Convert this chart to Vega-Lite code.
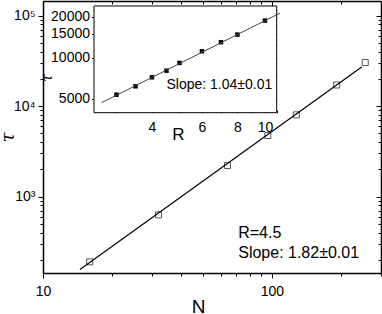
{
  "$schema": "https://vega.github.io/schema/vega-lite/v6.json",
  "width": 338,
  "height": 272,
  "autosize": {"type": "none"},
  "padding": {"left": 43, "top": 1, "right": 1, "bottom": 41},
  "background": "white",
  "config": {
    "view": {"stroke": null},
    "axis": {
      "grid": false,
      "labelFont": "Liberation Sans",
      "titleFont": "Liberation Sans",
      "labelColor": "black",
      "titleColor": "black",
      "domainColor": "black",
      "tickColor": "black",
      "labelFlush": false,
      "labelOverlap": false,
      "titleFontWeight": "normal",
      "zindex": 1
    },
    "text": {"font": "Liberation Sans", "color": "black"}
  },
  "datasets": {
    "mainData": [
      {"N": 16, "tau": 190},
      {"N": 32, "tau": 628},
      {"N": 64, "tau": 2200},
      {"N": 96, "tau": 4720},
      {"N": 128, "tau": 8000},
      {"N": 192, "tau": 17100},
      {"N": 256, "tau": 30300}
    ],
    "mainFit": [
      {"N": 14.5, "tau": 156},
      {"N": 247, "tau": 27000}
    ],
    "insetData": [
      {"R": 3, "tau": 5375},
      {"R": 3.5, "tau": 6190},
      {"R": 4, "tau": 7205},
      {"R": 4.5, "tau": 8050},
      {"R": 5, "tau": 9170},
      {"R": 6, "tau": 11160},
      {"R": 7, "tau": 13000},
      {"R": 8, "tau": 14770},
      {"R": 10, "tau": 18700}
    ],
    "insetFit": [
      {"R": 2.66, "tau": 4700},
      {"R": 11.3, "tau": 21200}
    ]
  },
  "layer": [
    {
      "layer": [
        {
          "data": {"name": "mainData"},
          "mark": {"type": "point", "shape": "square", "filled": false, "size": 36, "stroke": "#555", "strokeWidth": 1, "opacity": 1},
          "encoding": {
            "x": {
              "field": "N", "type": "quantitative",
              "scale": {"type": "log", "domain": [10, 300], "nice": false},
              "axis": {
                "orient": "bottom",
                "values": [10, 20, 30, 40, 50, 60, 70, 80, 90, 100, 200, 300],
                "labelExpr": "datum.value==10?'10':datum.value==100?'100':''",
                "tickSize": {"condition": {"test": "datum.value==10||datum.value==100", "value": 5}, "value": 3},
                "labelFontSize": 14,
                "labelPadding": 6,
                "domainWidth": 1.5,
                "title": "N",
                "titleFontSize": 19,
                "titleX": 155,
                "titleY": 33,
                "titleBaseline": "middle",
                "titleAlign": "center"
              }
            },
            "y": {
              "field": "tau", "type": "quantitative",
              "scale": {"type": "log", "domain": [143, 145000], "nice": false},
              "axis": {
                "orient": "left",
                "values": [200, 300, 400, 500, 600, 700, 800, 900, 1000, 2000, 3000, 4000, 5000, 6000, 7000, 8000, 9000, 10000, 20000, 30000, 40000, 50000, 60000, 70000, 80000, 90000, 100000],
                "labelExpr": "datum.value==1000?'10³':datum.value==10000?'10⁴':datum.value==100000?'10⁵':''",
                "tickSize": {"condition": {"test": "datum.value==1000||datum.value==10000||datum.value==100000", "value": 5}, "value": 3},
                "labelFontSize": 14,
                "labelPadding": 3,
                "domainWidth": 1.5,
                "title": "τ",
                "titleFont": "DejaVu Serif",
                "titleFontStyle": "italic",
                "titleFontSize": 18,
                "titleX": -35,
                "titleY": 136,
                "titleAngle": -90,
                "titleBaseline": "middle",
                "titleAlign": "center"
              }
            }
          }
        },
        {
          "data": {"name": "mainFit"},
          "mark": {"type": "line", "color": "black", "strokeWidth": 1.2},
          "encoding": {
            "x": {
              "field": "N", "type": "quantitative",
              "scale": {"type": "log", "domain": [10, 300], "nice": false},
              "axis": {
                "orient": "top",
                "values": [10, 20, 30, 40, 50, 60, 70, 80, 90, 100, 200, 300],
                "labels": false,
                "title": null,
                "tickSize": {"condition": {"test": "datum.value==10||datum.value==100", "value": -5}, "value": -3},
                "domainWidth": 1.5
              }
            },
            "y": {
              "field": "tau", "type": "quantitative",
              "scale": {"type": "log", "domain": [143, 145000], "nice": false},
              "axis": {
                "orient": "right",
                "values": [200, 300, 400, 500, 600, 700, 800, 900, 1000, 2000, 3000, 4000, 5000, 6000, 7000, 8000, 9000, 10000, 20000, 30000, 40000, 50000, 60000, 70000, 80000, 90000, 100000],
                "labels": false,
                "title": null,
                "tickSize": {"condition": {"test": "datum.value==1000||datum.value==10000||datum.value==100000", "value": -5}, "value": -3},
                "domainWidth": 1.5
              }
            }
          }
        },
        {
          "data": {"values": [{}]},
          "mark": {"type": "text", "align": "left", "baseline": "middle", "fontSize": 16},
          "encoding": {
            "x": {"datum": 71.3, "type": "quantitative", "scale": {"type": "log", "domain": [10, 300], "nice": false}, "axis": null},
            "y": {"datum": 400, "type": "quantitative", "scale": {"type": "log", "domain": [143, 145000], "nice": false}, "axis": null},
            "text": {"value": "R=4.5"}
          }
        },
        {
          "data": {"values": [{}]},
          "mark": {"type": "text", "align": "left", "baseline": "middle", "fontSize": 16},
          "encoding": {
            "x": {"datum": 71.3, "type": "quantitative", "scale": {"type": "log", "domain": [10, 300], "nice": false}, "axis": null},
            "y": {"datum": 239, "type": "quantitative", "scale": {"type": "log", "domain": [143, 145000], "nice": false}, "axis": null},
            "text": {"value": "Slope: 1.82±0.01"}
          }
        }
      ],
      "resolve": {"axis": {"x": "independent", "y": "independent"}}
    },
    {
      "layer": [
        {
          "data": {"values": [{}]},
          "mark": {"type": "rect", "fill": "white", "stroke": "black", "strokeWidth": 1},
          "encoding": {
            "x": {
              "datum": 2.5, "type": "quantitative",
              "scale": {"type": "log", "domain": [2.5, 11], "range": [51, 233.7], "nice": false},
              "axis": {
                "orient": "bottom",
                "offset": -160.3,
                "values": [3, 4, 5, 6, 7, 8, 9, 10, 11],
                "labelExpr": "datum.value==4?'4':datum.value==6?'6':datum.value==8?'8':datum.value==10?'10':''",
                "tickSize": {"condition": {"test": "datum.value==4||datum.value==6||datum.value==8||datum.value==10", "value": -4}, "value": -2.5},
                "labelFontSize": 14,
                "labelPadding": 12,
                "domain": false,
                "title": "R",
                "titleFontSize": 17,
                "titleX": 135,
                "titleY": 22,
                "titleBaseline": "middle",
                "titleAlign": "center"
              }
            },
            "x2": {"datum": 11},
            "y": {
              "datum": 3970, "type": "quantitative",
              "scale": {"type": "log", "domain": [3970, 23900], "range": [111.7, 5], "nice": false},
              "axis": {
                "orient": "left",
                "offset": -51,
                "values": [5000, 10000, 15000, 20000],
                "labelExpr": "datum.value + ''",
                "tickSize": 2.5,
                "labelFontSize": 14,
                "labelPadding": 2,
                "domain": false,
                "title": "τ",
                "titleFont": "DejaVu Serif",
                "titleFontStyle": "italic",
                "titleFontSize": 14,
                "titleX": -47,
                "titleY": 76.7,
                "titleAngle": -90,
                "titleBaseline": "middle",
                "titleAlign": "center"
              }
            },
            "y2": {"datum": 23900}
          }
        },
        {
          "data": {"name": "insetData"},
          "mark": {"type": "point", "shape": "square", "filled": true, "size": 20, "color": "black", "opacity": 1},
          "encoding": {
            "x": {"field": "R", "type": "quantitative", "scale": {"type": "log", "domain": [2.5, 11], "range": [51, 233.7], "nice": false}, "axis": null},
            "y": {
              "field": "tau", "type": "quantitative",
              "scale": {"type": "log", "domain": [3970, 23900], "range": [111.7, 5], "nice": false},
              "axis": {
                "orient": "right",
                "offset": -104.3,
                "values": [5000, 7500, 10000, 12500, 15000, 17500, 20000, 22500],
                "labels": false,
                "title": null,
                "tickSize": {"condition": {"test": "datum.value==5000||datum.value==10000||datum.value==15000||datum.value==20000", "value": -4}, "value": -2.5},
                "domain": false
              }
            }
          }
        },
        {
          "data": {"name": "insetFit"},
          "mark": {"type": "line", "color": "#444", "strokeWidth": 1},
          "encoding": {
            "x": {"field": "R", "type": "quantitative", "scale": {"type": "log", "domain": [2.5, 11], "range": [51, 233.7], "nice": false}, "axis": null},
            "y": {"field": "tau", "type": "quantitative", "scale": {"type": "log", "domain": [3970, 23900], "range": [111.7, 5], "nice": false}, "axis": null}
          }
        },
        {
          "data": {"values": [{}]},
          "mark": {"type": "text", "align": "left", "baseline": "middle", "fontSize": 14},
          "encoding": {
            "x": {"datum": 4.5, "type": "quantitative", "scale": {"type": "log", "domain": [2.5, 11], "range": [51, 233.7], "nice": false}, "axis": null},
            "y": {"datum": 6330, "type": "quantitative", "scale": {"type": "log", "domain": [3970, 23900], "range": [111.7, 5], "nice": false}, "axis": null},
            "text": {"value": "Slope: 1.04±0.01"}
          }
        }
      ],
      "resolve": {"axis": {"x": "independent", "y": "independent"}}
    }
  ],
  "resolve": {"scale": {"x": "independent", "y": "independent"}}
}
